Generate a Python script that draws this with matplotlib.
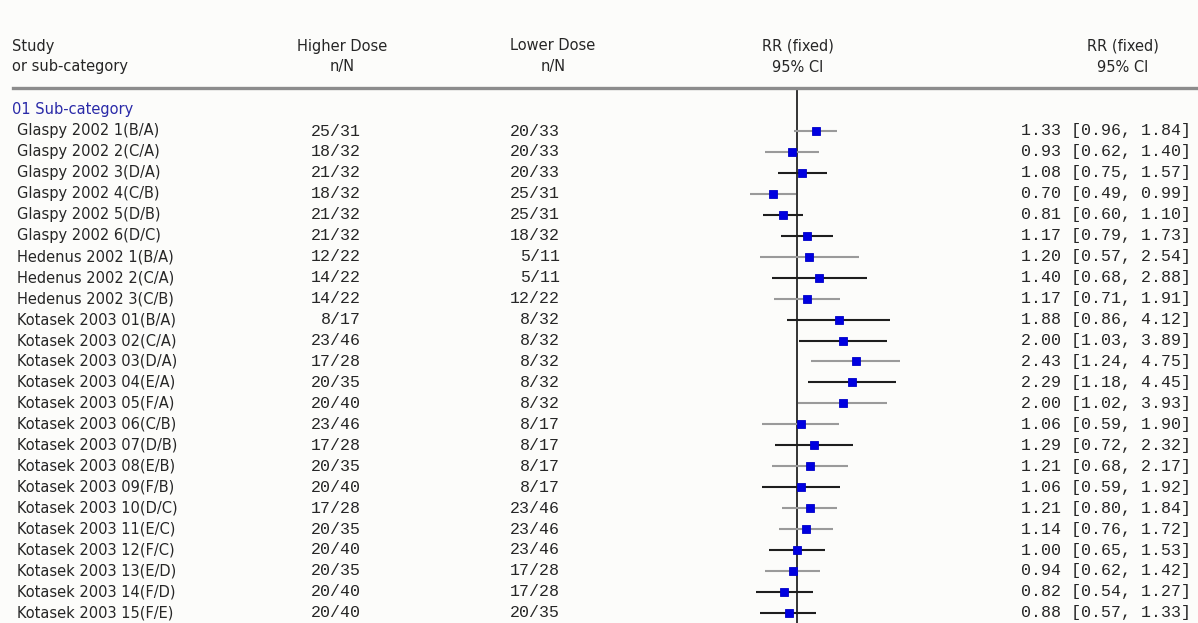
import matplotlib
matplotlib.use("Agg")
import matplotlib.pyplot as plt
import matplotlib.transforms as mtransforms
from matplotlib.lines import Line2D

# Study rows
studies = [
    "Glaspy 2002 1(B/A)", "Glaspy 2002 2(C/A)", "Glaspy 2002 3(D/A)",
    "Glaspy 2002 4(C/B)", "Glaspy 2002 5(D/B)", "Glaspy 2002 6(D/C)",
    "Hedenus 2002 1(B/A)", "Hedenus 2002 2(C/A)", "Hedenus 2002 3(C/B)",
    "Kotasek 2003 01(B/A)", "Kotasek 2003 02(C/A)", "Kotasek 2003 03(D/A)",
    "Kotasek 2003 04(E/A)", "Kotasek 2003 05(F/A)", "Kotasek 2003 06(C/B)",
    "Kotasek 2003 07(D/B)", "Kotasek 2003 08(E/B)", "Kotasek 2003 09(F/B)",
    "Kotasek 2003 10(D/C)", "Kotasek 2003 11(E/C)", "Kotasek 2003 12(F/C)",
    "Kotasek 2003 13(E/D)", "Kotasek 2003 14(F/D)", "Kotasek 2003 15(F/E)",
]
higher_dose = [
    "25/31", "18/32", "21/32", "18/32", "21/32", "21/32",
    "12/22", "14/22", "14/22",
    "8/17", "23/46", "17/28", "20/35", "20/40", "23/46",
    "17/28", "20/35", "20/40", "17/28", "20/35", "20/40",
    "20/35", "20/40", "20/40",
]
lower_dose = [
    "20/33", "20/33", "20/33", "25/31", "25/31", "18/32",
    "5/11", "5/11", "12/22",
    "8/32", "8/32", "8/32", "8/32", "8/32", "8/17",
    "8/17", "8/17", "8/17", "23/46", "23/46", "23/46",
    "17/28", "17/28", "20/35",
]
rr = [1.33, 0.93, 1.08, 0.70, 0.81, 1.17, 1.20, 1.40, 1.17,
      1.88, 2.00, 2.43, 2.29, 2.00, 1.06, 1.29, 1.21, 1.06,
      1.21, 1.14, 1.00, 0.94, 0.82, 0.88]
ci_low = [0.96, 0.62, 0.75, 0.49, 0.60, 0.79, 0.57, 0.68, 0.71,
          0.86, 1.03, 1.24, 1.18, 1.02, 0.59, 0.72, 0.68, 0.59,
          0.80, 0.76, 0.65, 0.62, 0.54, 0.57]
ci_high = [1.84, 1.40, 1.57, 0.99, 1.10, 1.73, 2.54, 2.88, 1.91,
           4.12, 3.89, 4.75, 4.45, 3.93, 1.90, 2.32, 2.17, 1.92,
           1.84, 1.72, 1.53, 1.42, 1.27, 1.33]

# line shade per row as it appears in the picture (g = gray, k = black)
ci_shade = "ggkgkkgkgkkgkggkgkggkgkk"

W, H = 1198, 623
BG = "#fcfcfa"
TXT = "#262626"
sans = ["DejaVu Sans"]
mono = ["Liberation Mono", "DejaVu Sans Mono"]

fig = plt.figure(figsize=(W / 100, H / 100), dpi=100, facecolor=BG)

# forest axes: x=0.1..10 on log scale, centred on RR=1 at x~797px
x_left, x_right = 645, 949
y_top = 89
row0, row_step = 131, 20.95
ax = fig.add_axes([x_left / W, 0, (x_right - x_left) / W, (H - y_top) / H])
ax.set_xscale("log")
ax.set_xlim(0.1, 10)
ax.set_ylim((H - row0) / row_step, (y_top - row0) / row_step)
ax.set_facecolor("none")
ax.axis("off")

ax.axvline(1.0, color="#111111", lw=1.2, zorder=2)

for i in range(len(studies)):
    col = "#9a9a9a" if ci_shade[i] == "g" else "#1e1e1e"
    ax.plot([ci_low[i], ci_high[i]], [i, i], color=col, lw=1.5,
            solid_capstyle="butt", zorder=3)
    ax.plot(rr[i], i, marker="s", ms=5.2, color="#0000e0",
            mec="#0000c8", mew=0.6, zorder=4)

# text columns: x in figure fraction, y in row units
tr = mtransforms.blended_transform_factory(fig.transFigure, ax.transData)
for i, name in enumerate(studies):
    ax.text(17 / W, i, name, transform=tr, ha="left", va="center",
            fontsize=10.5, family=sans, color=TXT, clip_on=False)
    ax.text(361 / W, i, higher_dose[i], transform=tr, ha="right",
            va="center", fontsize=12, family=mono, color=TXT, clip_on=False)
    ax.text(560 / W, i, lower_dose[i], transform=tr, ha="right",
            va="center", fontsize=12, family=mono, color=TXT, clip_on=False)
    ci_txt = f"{rr[i]:.2f} [{ci_low[i]:.2f}, {ci_high[i]:.2f}]"
    ax.text(1191 / W, i, ci_txt, transform=tr, ha="right", va="center",
            fontsize=12, family=mono, color=TXT, clip_on=False)

ax.text(12 / W, -1.05, "01 Sub-category", transform=tr, ha="left",
        va="center", fontsize=10.5, family=sans, color="#2a2aa8",
        clip_on=False)

# header
def hdr(x, y, s, ha="center"):
    fig.text(x / W, 1 - y / H, s, ha=ha, va="center", fontsize=10.5,
             family=sans, color=TXT)

hdr(12, 46, "Study", ha="left")
hdr(12, 67, "or sub-category", ha="left")
hdr(342, 46, "Higher Dose")
hdr(342, 67, "n/N")
hdr(553, 46, "Lower Dose")
hdr(553, 67, "n/N")
hdr(798, 46, "RR (fixed)")
hdr(798, 67, "95% CI")
hdr(1123, 46, "RR (fixed)")
hdr(1123, 67, "95% CI")

fig.add_artist(Line2D([13 / W, 1.0], [1 - 88 / H, 1 - 88 / H],
                      transform=fig.transFigure, color="#8c8c8c", lw=2.4))

fig.savefig("out.png", dpi=100, facecolor=BG)
